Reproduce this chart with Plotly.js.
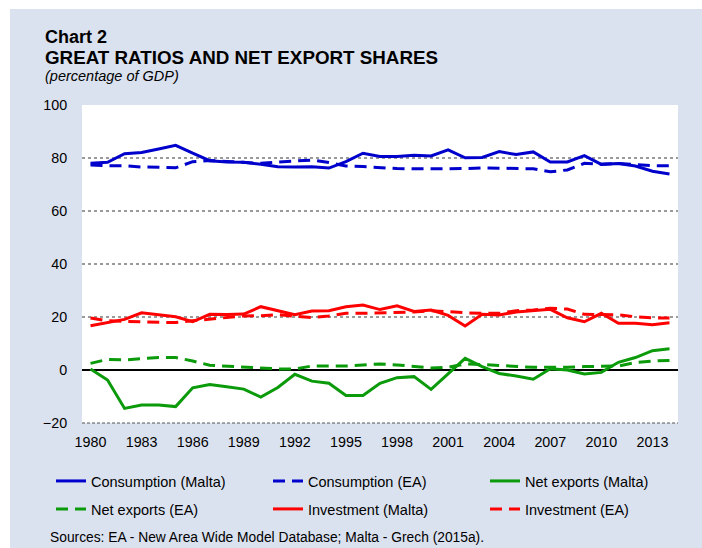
<!DOCTYPE html>
<html>
<head>
<meta charset="utf-8">
<script src="https://cdn.plot.ly/plotly-3.0.1.min.js"></script>
<style>
html, body { margin: 0; padding: 0; background: #ffffff; width: 702px; height: 548px; overflow: hidden; }
#chart { position: absolute; left: 10px; top: 9px; width: 692px; height: 539px; }
</style>
</head>
<body>
<div id="chart"></div>
<script>
var years = [1980, 1981, 1982, 1983, 1984, 1985, 1986, 1987, 1988, 1989, 1990, 1991,
             1992, 1993, 1994, 1995, 1996, 1997, 1998, 1999, 2000, 2001, 2002, 2003,
             2004, 2005, 2006, 2007, 2008, 2009, 2010, 2011, 2012, 2013, 2014];

var consumptionMalta = [78.0, 78.4, 81.6, 82.1, 83.4, 84.8, 81.8, 79.0, 78.5, 78.4, 77.6, 76.7,
                        76.6, 76.7, 76.2, 78.6, 81.8, 80.6, 80.6, 81.0, 80.8, 83.1, 80.1, 80.2,
                        82.4, 81.3, 82.3, 78.5, 78.5, 80.9, 77.6, 77.9, 77.0, 75.0, 74.0];
var consumptionEA = [77.4, 77.1, 77.1, 76.6, 76.5, 76.3, 78.6, 79.1, 78.7, 78.4, 78.0, 78.5,
                     78.8, 79.2, 78.3, 77.0, 76.8, 76.3, 76.0, 75.9, 75.9, 75.9, 76.0, 76.3,
                     76.2, 76.1, 75.9, 74.8, 75.5, 78.0, 77.6, 77.9, 77.5, 77.1, 77.1];
var netExportsMalta = [0.4, -3.8, -14.5, -13.2, -13.2, -13.8, -6.7, -5.5, -6.3, -7.2, -10.2, -6.6,
                       -1.6, -4.2, -5.0, -9.6, -9.6, -5.0, -2.9, -2.5, -7.3, -1.5, 4.4, 1.3,
                       -1.3, -2.3, -3.5, 0.5, 0.0, -1.5, -0.9, 2.9, 4.7, 7.3, 8.0];
var netExportsEA = [2.5, 4.0, 3.8, 4.2, 4.7, 4.7, 3.4, 1.8, 1.4, 1.1, 0.6, 0.4,
                    0.4, 1.5, 1.5, 1.5, 1.9, 2.3, 1.9, 1.4, 0.8, 1.0, 2.3, 2.1,
                    1.8, 1.3, 1.0, 1.0, 1.0, 1.3, 1.3, 1.5, 2.8, 3.4, 3.6];
var investmentMalta = [16.7, 18.0, 19.1, 21.6, 20.9, 20.1, 18.2, 21.0, 20.9, 21.1, 23.9, 22.5,
                       20.9, 22.3, 22.4, 23.9, 24.5, 22.8, 24.2, 22.1, 22.6, 20.6, 16.6, 21.0,
                       20.8, 21.9, 22.3, 22.9, 19.7, 18.2, 21.4, 17.6, 17.6, 17.1, 17.8];
var investmentEA = [19.6, 18.6, 18.3, 18.1, 18.0, 17.9, 18.6, 19.2, 19.7, 20.4, 20.5, 20.9,
                    20.3, 19.8, 20.4, 21.4, 21.4, 21.5, 21.8, 21.9, 22.4, 21.9, 21.6, 21.4,
                    21.4, 22.4, 22.6, 23.3, 23.0, 21.0, 20.8, 20.8, 20.1, 19.7, 19.6];

var tickYears = [1980, 1983, 1986, 1989, 1992, 1995, 1998, 2001, 2004, 2007, 2010, 2013];
var tickLabels = ['1980', '1983', '1986', '1989', '1992', '1995', '1998', '2001', '2004', '2007', '2010', '2013'];
var yTicks = [-20, 0, 20, 40, 60, 80, 100];

var seriesNames = ['Consumption (Malta)', 'Consumption (EA)', 'Net exports (Malta)',
                   'Net exports (EA)', 'Investment (Malta)', 'Investment (EA)'];

var BLUE = '#0000cc', GREEN = '#0a9a0a', RED = '#ff0000';
var DASH = '12px,7px';
var FONT = '"Liberation Sans", Arial, Helvetica, sans-serif';

function tr(y, name, color, dashed, legendId) {
  return {
    type: 'scatter', mode: 'lines', x: years, y: y, name: name,
    legend: legendId,
    line: { color: color, width: 3, dash: dashed ? DASH : 'solid' },
    hoverinfo: 'skip'
  };
}

var data = [
  tr(consumptionMalta, seriesNames[0], BLUE, false, 'legend'),
  tr(consumptionEA, seriesNames[1], BLUE, true, 'legend'),
  tr(netExportsMalta, seriesNames[2], GREEN, false, 'legend'),
  tr(netExportsEA, seriesNames[3], GREEN, true, 'legend2'),
  tr(investmentMalta, seriesNames[4], RED, false, 'legend2'),
  tr(investmentEA, seriesNames[5], RED, true, 'legend2')
];

var legendCommon = {
  orientation: 'h', xref: 'paper', yref: 'paper', x: -0.0316, xanchor: 'left', yanchor: 'top',
  bgcolor: 'rgba(0,0,0,0)', borderwidth: 0, entrywidth: 172, entrywidthmode: 'pixels',
  font: { family: FONT, size: 14.5, color: '#000' }, traceorder: 'normal'
};

var layout = {
  width: 692, height: 539,
  margin: { l: 72, r: 24, t: 96, b: 125, pad: 0 },
  paper_bgcolor: '#dbe2ef',
  plot_bgcolor: '#ffffff',
  font: { family: FONT, size: 14, color: '#000' },
  showlegend: true,
  legend: Object.assign({}, legendCommon, { y: -0.1321 }),
  legend2: Object.assign({}, legendCommon, { y: -0.2201 }),
  xaxis: {
    type: 'linear', range: [1979.5, 2014.5], tickmode: 'array',
    tickvals: tickYears, ticktext: tickLabels,
    showgrid: false, zeroline: false, showline: false,
    ticks: 'outside', ticklen: 6, tickcolor: 'rgba(0,0,0,0)',
    tickfont: { family: FONT, size: 14.3, color: '#000' }, fixedrange: true
  },
  yaxis: {
    range: [-20, 100], tickmode: 'array', tickvals: yTicks,
    showgrid: true, gridcolor: '#9a9a9a', gridwidth: 1.3, griddash: 'dot',
    zeroline: true, zerolinecolor: '#000000', zerolinewidth: 2.5,
    showline: false, ticks: 'outside', ticklen: 11, tickcolor: 'rgba(0,0,0,0)',
    tickfont: { family: FONT, size: 14.3, color: '#000' }, fixedrange: true
  },
  shapes: [
    { type: 'line', xref: 'paper', yref: 'paper', x0: 0, x1: 1, y0: 0, y1: 0,
      line: { color: '#555555', width: 1, dash: '3px,2px' } }
  ],
  annotations: [
    { text: '<b>Chart 2</b>', xref: 'paper', yref: 'paper', x: -0.0654, y: 1.2138,
      xanchor: 'left', yanchor: 'middle', showarrow: false,
      font: { family: FONT, size: 18, color: '#000' } },
    { text: '<b>GREAT RATIOS AND NET EXPORT SHARES</b>', xref: 'paper', yref: 'paper', x: -0.0654, y: 1.1509,
      xanchor: 'left', yanchor: 'middle', showarrow: false,
      font: { family: FONT, size: 18.8, color: '#000' } },
    { text: '<i>(percentage of GDP)</i>', xref: 'paper', yref: 'paper', x: -0.0654, y: 1.0912,
      xanchor: 'left', yanchor: 'middle', showarrow: false,
      font: { family: FONT, size: 14.5, color: '#000' } },
    { text: 'Sources: EA - New Area Wide Model Database; Malta - Grech (2015a).', xref: 'paper', yref: 'paper',
      x: -0.0570, y: -0.3585, xanchor: 'left', yanchor: 'middle', showarrow: false,
      font: { family: FONT, size: 13.8, color: '#000' } }
  ]
};

Plotly.newPlot('chart', data, layout, { displayModeBar: false, staticPlot: true });
</script>
</body>
</html>
